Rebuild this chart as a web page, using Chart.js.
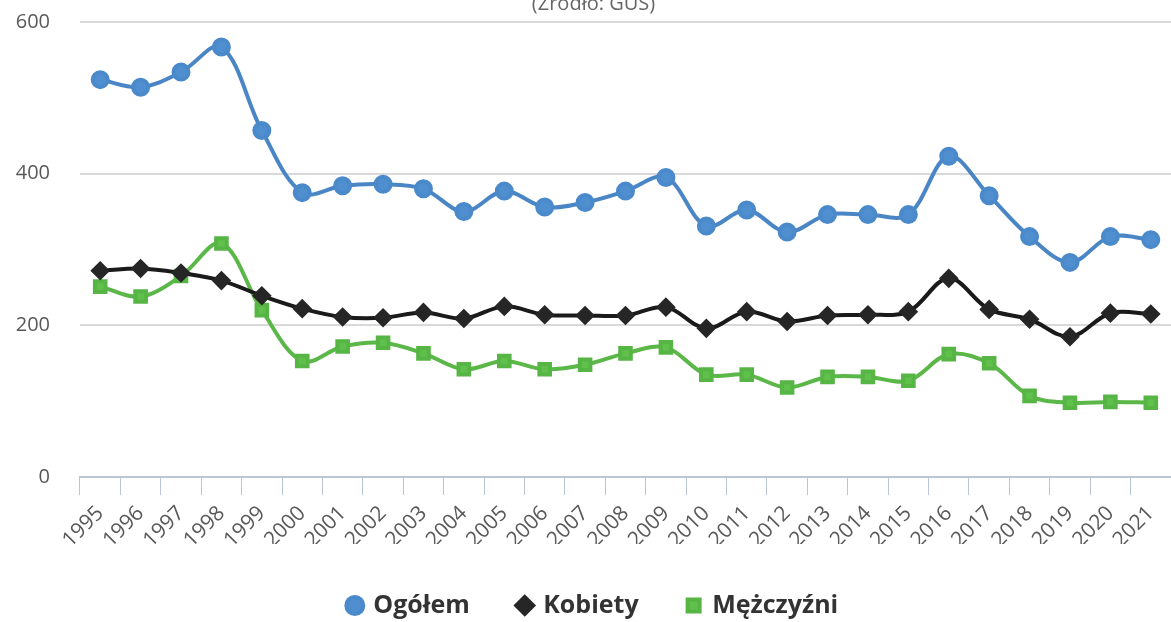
<!DOCTYPE html>
<html lang="pl">
  <head>
    <meta charset="UTF-8" />
    <title>Ogółem / Kobiety / Mężczyźni</title>
    <script src="https://cdn.jsdelivr.net/npm/chart.js"></script>
    <style>
      html, body {
        margin: 0;
        padding: 0;
        background: #fff;
        overflow: hidden;
      }
      .wrap {
        position: absolute;
        left: 0;
        top: -8px;
        width: 1171px;
        height: 636px;
      }
    </style>
  </head>
  <body>
    <div class="wrap">
      <canvas id="chart"></canvas>
    </div>

    <script>
      const years = [
        '1995', '1996', '1997', '1998', '1999', '2000', '2001', '2002', '2003',
        '2004', '2005', '2006', '2007', '2008', '2009', '2010', '2011', '2012',
        '2013', '2014', '2015', '2016', '2017', '2018', '2019', '2020', '2021',
      ];
      const ogolem = [
        524, 514, 534, 567, 457, 375, 384, 386, 380, 350, 377, 356, 362, 377,
        395, 331, 352, 323, 346, 346, 346, 423, 371, 317, 283, 317, 313,
      ];
      const kobiety = [
        272, 275, 269, 259, 239, 222, 211, 210, 217, 209, 225, 214, 213, 213,
        224, 196, 218, 205, 213, 214, 218, 262, 221, 208, 185, 216, 215,
      ];
      const mezczyzni = [
        251, 238, 265, 308, 220, 153, 172, 177, 163, 142, 153, 142, 148, 163,
        171, 135, 135, 118, 132, 132, 127, 162, 150, 107, 98, 99, 98,
      ];

      const font = "'Open Sans', 'DejaVu Sans', sans-serif";

      new Chart(document.getElementById('chart'), {
        type: 'line',
        data: {
          labels: years,
          datasets: [
            {
              label: 'Ogółem',
              data: ogolem,
              borderColor: '#4a86c5',
              backgroundColor: '#4f8fd0',
              pointBorderColor: '#4a8acb',
              pointStyle: 'circle',
              pointRadius: 7.5,
              borderWidth: 4,
              tension: 0.35,
            },
            {
              label: 'Kobiety',
              data: kobiety,
              borderColor: '#1a1a1a',
              backgroundColor: '#262626',
              pointBorderColor: '#262626',
              pointStyle: 'rectRot',
              pointRadius: 7,
              borderWidth: 4,
              tension: 0.35,
            },
            {
              label: 'Mężczyźni',
              data: mezczyzni,
              borderColor: '#5ab748',
              backgroundColor: '#5fc04c',
              pointBorderColor: '#57b545',
              pointStyle: 'rect',
              pointRadius: 7.5,
              borderWidth: 4,
              tension: 0.35,
            },
          ],
        },
        options: {
          responsive: true,
          maintainAspectRatio: false,
          animation: false,
          layout: {
            autoPadding: false,
            padding: { left: 9, right: -7, top: 0, bottom: 0 },
          },
          plugins: {
            title: {
              display: true,
              text: '(Źródło: GUS)',
              color: '#666',
              font: { family: font, size: 20, weight: 'normal' },
              padding: { top: 0, bottom: 6 },
            },
            legend: {
              position: 'bottom',
              labels: {
                usePointStyle: true,
                boxWidth: 12,
                boxHeight: 12,
                padding: 49,
                color: '#333',
                font: { family: font, size: 25, weight: 'bold' },
              },
            },
            tooltip: { enabled: false },
          },
          scales: {
            x: {
              offset: true,
              afterFit: (scale) => {
                // fixed band under the plot; rotated labels may hang over the y axis
                scale.height = 67;
                scale.paddingLeft = 0;
                scale.paddingRight = 0;
              },
              grid: {
                offset: true,
                drawOnChartArea: false,
                drawTicks: true,
                tickLength: 18,
                color: '#b9c6d8',
              },
              border: { color: '#b9c6d8', width: 2 },
              ticks: {
                minRotation: 45,
                maxRotation: 45,
                color: '#595959',
                padding: 6,
                font: { family: font, size: 21 },
              },
            },
            y: {
              min: 0,
              max: 600,
              afterFit: (scale) => {
                scale.width = 71;
                scale.paddingTop = 0;
                scale.paddingBottom = 0;
              },
              ticks: {
                stepSize: 200,
                color: '#595959',
                padding: 30,
                font: { family: font, size: 20 },
              },
              grid: {
                color: '#d9d9d9',
                lineWidth: 2,
                drawTicks: false,
              },
              border: { display: false },
            },
          },
        },
      });
    </script>
  </body>
</html>
